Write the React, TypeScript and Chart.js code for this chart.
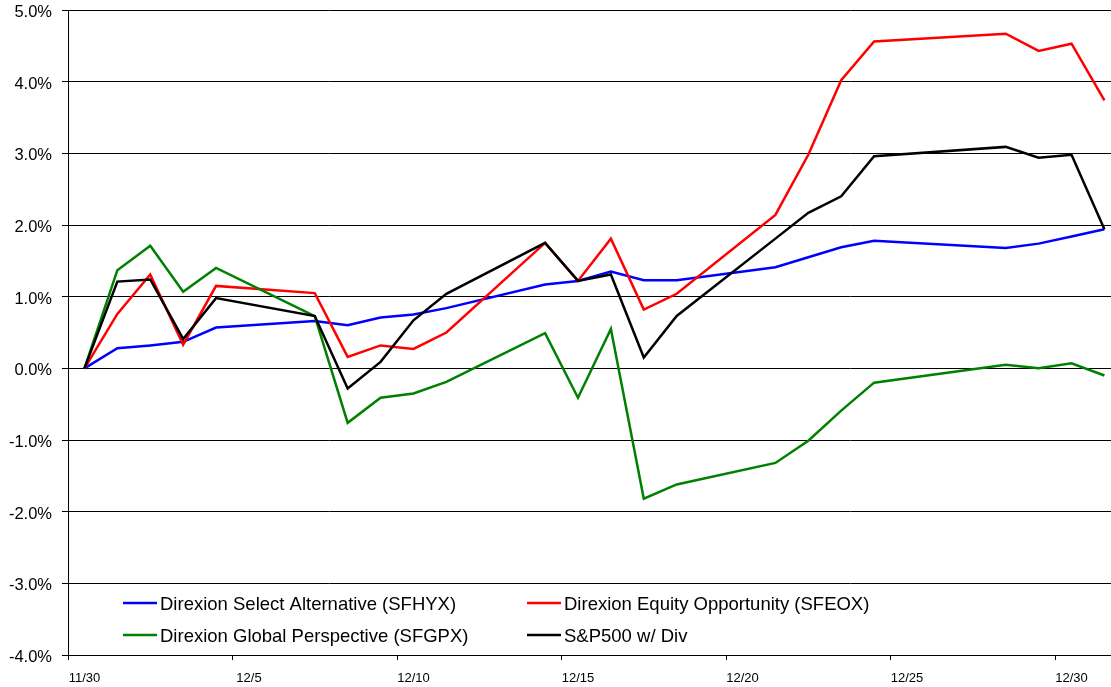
import React, { useEffect, useRef } from 'react';
import { Chart, registerables } from 'chart.js';

Chart.register(...registerables);

// Trading dates (11/30 to 12/31)
const dates = ['11/30', '12/1', '12/2', '12/3', '12/4', '12/7', '12/8', '12/9', '12/10', '12/11', '12/14', '12/15', '12/16', '12/17', '12/18', '12/21', '12/22', '12/23', '12/24', '12/28', '12/29', '12/30', '12/31'];

// Cumulative returns, percent
const sfhyx = [0, 0.28, 0.32, 0.37, 0.57, 0.66, 0.60, 0.71, 0.75, 0.84, 1.17, 1.22, 1.35, 1.23, 1.23, 1.41, 1.55, 1.69, 1.78, 1.68, 1.74, 1.84, 1.94];
const sfeox = [0, 0.76, 1.31, 0.33, 1.15, 1.05, 0.16, 0.32, 0.27, 0.50, 1.75, 1.22, 1.81, 0.82, 1.04, 2.14, 2.98, 4.02, 4.56, 4.67, 4.43, 4.53, 3.74];
const sfgpx = [0, 1.37, 1.71, 1.07, 1.40, 0.73, -0.76, -0.41, -0.35, -0.19, 0.49, -0.41, 0.55, -1.82, -1.62, -1.32, -1.01, -0.59, -0.20, 0.05, 0.00, 0.07, -0.10];
const sp500 = [0, 1.21, 1.24, 0.41, 0.98, 0.73, -0.28, 0.09, 0.67, 1.04, 1.75, 1.22, 1.31, 0.15, 0.73, 1.81, 2.17, 2.40, 2.96, 3.09, 2.94, 2.98, 1.94];

const seriesLabels = ['Direxion Select Alternative (SFHYX)', 'Direxion Equity Opportunity (SFEOX)', 'Direxion Global Perspective (SFGPX)', 'S&P500 w/ Div'];
const seriesColors = ['#0000FF', '#FF0000', '#008000', '#000000'];

const xTickLabels = ['11/30', '12/5', '12/10', '12/15', '12/20', '12/25', '12/30'];
const yTickValues = [-4, -3, -2, -1, 0, 1, 2, 3, 4, 5];

const FONT = "'Liberation Sans', Arial, Helvetica, sans-serif";

function dayIndex(s: string): number {
  const [m, d] = s.split('/').map(Number);
  const base = Date.UTC(2009, 10, 30);
  const t = Date.UTC(2009, m - 1, d);
  return Math.round((t - base) / 86400000);
}

const legendPlugin = {
  id: 'insideLegend',
  afterDraw(chart: any) {
    const ctx = chart.ctx;
    const cols = [123, 527];
    const rows = [603, 635];
    ctx.save();
    chart.data.datasets.forEach((ds: any, i: number) => {
      const x = cols[i % 2];
      const y = rows[Math.floor(i / 2)];
      ctx.strokeStyle = ds.borderColor;
      ctx.lineWidth = 2.5;
      ctx.beginPath();
      ctx.moveTo(x, y);
      ctx.lineTo(x + 34, y);
      ctx.stroke();
      ctx.fillStyle = '#000';
      ctx.font = `18.5px ${FONT}`;
      ctx.textBaseline = 'middle';
      ctx.textAlign = 'left';
      ctx.fillText(ds.label, x + 37, y + 2);
    });
    ctx.restore();
  },
};

export default function App() {
  const ref = useRef<HTMLCanvasElement | null>(null);

  useEffect(() => {
    if (!ref.current) return;
    const allSeries = [sfhyx, sfeox, sfgpx, sp500];
    const orders = [3, 2, 1, 0];
    const datasets = allSeries.map((vals, i) => ({
      label: seriesLabels[i],
      data: vals.map((v, j) => ({ x: dayIndex(dates[j]) + 0.5, y: v })),
      borderColor: seriesColors[i],
      backgroundColor: seriesColors[i],
      borderWidth: 2.5,
      pointRadius: 0,
      tension: 0,
      fill: false,
      order: orders[i],
    }));

    const chart = new Chart(ref.current, {
      type: 'line',
      data: { datasets },
      plugins: [legendPlugin],
      options: {
        responsive: false,
        animation: false,
        devicePixelRatio: 1,
        layout: { padding: { top: 10, left: 0, right: 0, bottom: 0 } },
        plugins: {
          legend: { display: false },
          tooltip: { enabled: false },
          title: { display: false },
        },
        scales: {
          x: {
            type: 'linear',
            min: 0,
            max: 31.7,
            afterBuildTicks: (scale: any) => {
              scale.ticks = xTickLabels.map((_, i) => ({ value: i * 5 }));
            },
            afterFit: (scale: any) => {
              scale.height = 32;
              scale.paddingLeft = 0;
              scale.paddingRight = 0;
            },
            ticks: {
              autoSkip: false,
              maxRotation: 0,
              minRotation: 0,
              padding: 11,
              labelOffset: 16.45,
              color: '#000',
              font: { family: FONT, size: 13 },
              callback: (v: any) => {
                const idx = Math.round(Number(v) / 5);
                return xTickLabels[idx] ?? '';
              },
            },
            grid: {
              drawOnChartArea: false,
              drawTicks: true,
              tickLength: 5,
              color: '#000',
              lineWidth: 1,
            },
            border: { display: true, color: '#000', width: 1 },
          },
          y: {
            type: 'linear',
            min: -4,
            max: 5,
            afterBuildTicks: (scale: any) => {
              scale.ticks = yTickValues.map((v) => ({ value: v }));
            },
            afterFit: (scale: any) => {
              scale.width = 68;
              scale.paddingTop = 0;
              scale.paddingBottom = 0;
            },
            ticks: {
              padding: 10,
              labelOffset: 2.5,
              color: '#000',
              font: { family: FONT, size: 16.5 },
              callback: (v: any) => Number(v).toFixed(1) + '%',
            },
            grid: {
              drawOnChartArea: true,
              drawTicks: true,
              tickLength: 6,
              color: '#000',
              lineWidth: 1,
            },
            border: { display: true, color: '#000', width: 1 },
          },
        },
      },
    } as any);

    return () => chart.destroy();
  }, []);

  return (
    <div style={{ position: 'absolute', left: 0, top: 0, width: 1111, height: 687, background: '#fff' }}>
      <canvas ref={ref} width={1111} height={687} style={{ display: 'block' }} />
    </div>
  );
}
